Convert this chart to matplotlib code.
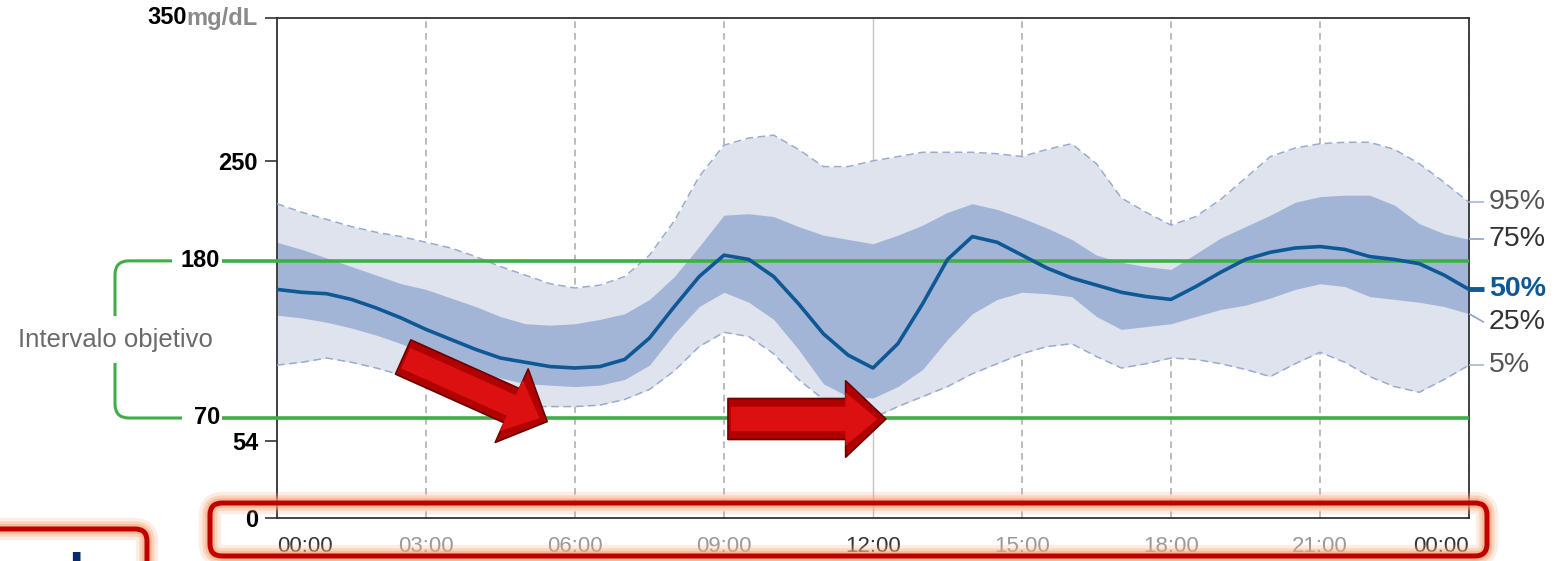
import numpy as np
import matplotlib

matplotlib.use("Agg", force=True)
import matplotlib.pyplot as plt
from matplotlib import font_manager
from matplotlib.patches import FancyBboxPatch, PathPatch
from matplotlib.path import Path
from matplotlib.transforms import IdentityTransform, blended_transform_factory

# --- data (mg/dL, every 30 min from 00:00 to 24:00) ---
hours = np.arange(0, 24.5, 0.5)

p95 = [220, 214, 209, 204, 200, 197, 193, 189, 183, 176, 170, 164, 161, 163, 169, 184,
       208, 239, 261, 266, 268, 258, 246, 246, 250, 253, 256, 256, 256, 255, 253, 258,
       262, 248, 224, 214, 205, 211, 223, 238, 253, 259, 262, 263, 263, 258, 248, 235, 221]
p75 = [193, 188, 182, 176, 170, 164, 160, 154, 148, 141, 136, 135, 136, 139, 143, 153,
       169, 190, 212, 213, 211, 204, 198, 195, 192, 198, 205, 214, 220, 216, 210, 203,
       195, 184, 179, 176, 174, 185, 196, 204, 212, 221, 225, 226, 226, 219, 206, 199, 195]
p50 = [160, 158, 157, 153, 147, 140, 132, 125, 118, 112, 109, 106, 105, 106, 111, 126,
       148, 169, 184, 181, 169, 150, 129, 114, 105, 122, 150, 181, 197, 193, 184, 175,
       168, 163, 158, 155, 153, 162, 172, 181, 186, 189, 190, 188, 183, 181, 178, 170, 160]
p25 = [142, 140, 137, 133, 128, 122, 115, 108, 102, 98, 94, 93, 92, 93, 97, 107,
       129, 148, 158, 151, 139, 118, 94, 85, 84, 92, 104, 125, 143, 153, 158, 157,
       155, 141, 132, 134, 136, 141, 146, 149, 154, 160, 164, 162, 155, 153, 151, 148, 143]
p5 = [107, 109, 112, 109, 105, 100, 94, 88, 84, 80, 78, 78, 78, 79, 83, 90,
      103, 120, 130, 127, 115, 97, 83, 73, 70, 78, 85, 92, 101, 108, 115, 120,
      122, 113, 105, 108, 112, 111, 108, 104, 99, 108, 116, 109, 99, 92, 88, 97, 107]

x_tick_hours = [0, 3, 6, 9, 12, 15, 18, 21, 24]
x_tick_labels = ["00:00", "03:00", "06:00", "09:00", "12:00", "15:00", "18:00", "21:00", "00:00"]
x_label_dark = [True, False, False, False, True, False, False, False, True]
y_ticks = [0, 54, 250, 350]
target_low, target_high = 70, 180
target_label = "Intervalo objetivo"
unit_label = "mg/dL"
percentile_labels = ["95%", "75%", "50%", "25%", "5%"]
percentile_series = [p95, p75, p50, p25, p5]

# arrows drawn over the chart (tail, tip) in hours / mg/dL
arrow_marks = [((2.54, 112.7), (5.44, 67.5)), ((9.08, 69.3), (12.26, 69.3))]

# --- style ---
W, H = 1555, 561
LIGHT_BAND = "#dfe3ee"
DARK_BAND = "#a3b5d6"
EDGE = "#9aaccd"
MEDIAN = "#0f5896"
GREEN = "#3fae49"
AXIS = "#333333"

plt.rcParams["font.family"] = ["Liberation Sans", "DejaVu Sans"]
installed = {f.name for f in font_manager.fontManager.ttflist}
if "Liberation Sans Narrow" in installed:
    narrow_family, x_size = ["Liberation Sans Narrow", "Liberation Sans"], 19.5
else:
    narrow_family, x_size = ["Liberation Sans", "DejaVu Sans"], 16

fig = plt.figure(figsize=(W / 100, H / 100), dpi=100)
ax = fig.add_axes([277 / W, 1 - 518 / H, (1469 - 277) / W, 500 / H])
ax.set_xlim(0, 24)
ax.set_ylim(0, 350)

# bands and lines
ax.fill_between(hours, p5, p95, color=LIGHT_BAND, lw=0, zorder=1)
ax.fill_between(hours, p25, p75, color=DARK_BAND, lw=0, zorder=2)
ax.plot(hours, p95, color=EDGE, lw=1.1, ls=(0, (5, 3)), zorder=3)
ax.plot(hours, p5, color=EDGE, lw=1.1, ls=(0, (5, 3)), zorder=3)

fx = blended_transform_factory(fig.transFigure, ax.transData)
for level in (target_low, target_high):
    ax.plot([222 / W, 1469 / W], [level, level], color=GREEN, lw=2.6,
            transform=fx, clip_on=False, zorder=4, solid_capstyle="butt")
    ax.text(220 / W, level, str(level), transform=fx, ha="right", va="center",
            fontsize=17, fontweight="bold", color="black")

ax.plot(hours, p50, color=MEDIAN, lw=2.6, zorder=5, solid_joinstyle="round")

# grid
ax.set_xticks(x_tick_hours)
ax.set_xticklabels(x_tick_labels)
ax.set_axisbelow(True)
ax.grid(axis="x", color="#b0b0b0", lw=1.2, ls=(0, (4, 3)))
for hour, line in zip(x_tick_hours, ax.get_xgridlines()):
    if hour == 12:
        line.set_linestyle("-")
        line.set_color("#c4c4c4")
        line.set_linewidth(1.0)

ax.tick_params(axis="x", length=0, pad=13)
for dark, lab in zip(x_label_dark, ax.get_xticklabels()):
    lab.set_family(narrow_family)
    lab.set_fontsize(x_size)
    lab.set_color("#333333" if dark else "#999999")
labels = ax.get_xticklabels()
labels[0].set_ha("left")
labels[-1].set_ha("right")

ax.set_yticks(y_ticks)
ax.set_yticklabels([str(v) if v != 350 else "" for v in y_ticks])
ax.tick_params(axis="y", direction="out", length=8.6, width=1.2, color=AXIS, pad=5,
               labelsize=17)
for lab in ax.get_yticklabels():
    lab.set_fontweight("bold")

unit = ax.text(258 / W, 350, unit_label, transform=fx, ha="right", va="center",
               fontsize=17, fontweight="bold", color="#8a8a8a")
ax.annotate("350", xy=(0, 0), xycoords=unit, ha="right", va="bottom",
            fontsize=17, fontweight="bold", color="black")

for side in ax.spines.values():
    side.set_color(AXIS)
    side.set_linewidth(1.3)

# percentile labels on the right
label_offsets = {"25%": -6}
label_styles = {
    "95%": ("#555555", "normal", "#a9b7d3", 1.2),
    "75%": ("#333333", "normal", "#8fa3c8", 1.2),
    "50%": (MEDIAN, "bold", MEDIAN, 3.5),
    "25%": ("#333333", "normal", "#8fa3c8", 1.2),
    "5%": ("#555555", "normal", "#a9b7d3", 1.2),
}
for name, series in zip(percentile_labels, percentile_series):
    color, weight, tick_color, tick_lw = label_styles[name]
    end = series[-1]
    lab_y = end + label_offsets.get(name, 0)
    ax.plot([1469 / W, 1484 / W], [end, lab_y], transform=fx, color=tick_color,
            lw=tick_lw, clip_on=False, zorder=6, solid_capstyle="butt")
    ax.text(1489 / W, lab_y, name, transform=fx, ha="left", va="center",
            fontsize=20.5, color=color, fontweight=weight)

# target range bracket on the left
y_hi = ax.transData.transform((0, target_high))[1]
y_lo = ax.transData.transform((0, target_low))[1]
xv, r = 115, 14
text_y = H - 340
verts = [(172, y_hi), (xv + r, y_hi), (xv, y_hi), (xv, y_hi - r), (xv, text_y + 24),
         (xv, text_y - 23), (xv, y_lo + r), (xv, y_lo), (xv + r, y_lo), (182, y_lo)]
codes = [Path.MOVETO, Path.LINETO, Path.CURVE3, Path.CURVE3, Path.LINETO,
         Path.MOVETO, Path.LINETO, Path.CURVE3, Path.CURVE3, Path.LINETO]
fig.add_artist(PathPatch(Path(verts, codes), transform=IdentityTransform(),
                         fill=False, ec=GREEN, lw=2.2, capstyle="butt"))
fig.text(xv / W, text_y / H, target_label, ha="center", va="center",
         fontsize=18.5, color="#6a6a6a")

# red arrows: a dark body with a lighter inner highlight for the raised look
arrow_sizes = [(28, 58, 27), (29, 55, 29.5)]
for (tail, tip), (head_len, head_w, tail_w) in zip(arrow_marks, arrow_sizes):
    ax.annotate("", xy=tip, xytext=tail, annotation_clip=False, zorder=8,
                arrowprops=dict(arrowstyle=f"simple,head_length={head_len},"
                                           f"head_width={head_w},tail_width={tail_w}",
                                mutation_scale=1, fc="#b00000", ec="#6a0000", lw=1.2,
                                shrinkA=0, shrinkB=0))
    ax.annotate("", xy=tip, xytext=tail, annotation_clip=False, zorder=9,
                arrowprops=dict(arrowstyle=f"simple,head_length={head_len * 0.8},"
                                           f"head_width={head_w * 0.7},"
                                           f"tail_width={tail_w * 0.6}",
                                mutation_scale=1, fc="#dc1010", ec="none",
                                shrinkA=2, shrinkB=6))


# highlight boxes
def red_box(x0, y_top, x1, y_bottom):
    for lw, alpha in [(16, 0.2), (11, 0.32), (7, 0.5)]:
        fig.add_artist(FancyBboxPatch((x0, H - y_bottom), x1 - x0, y_bottom - y_top,
                                      boxstyle="round,pad=0,rounding_size=12",
                                      transform=IdentityTransform(), fill=False,
                                      ec="#f5a070", lw=lw, alpha=alpha))
    fig.add_artist(FancyBboxPatch((x0, H - y_bottom), x1 - x0, y_bottom - y_top,
                                  boxstyle="round,pad=0,rounding_size=12",
                                  transform=IdentityTransform(), fill=False,
                                  ec="#c00000", lw=3.6))


red_box(210, 503, 1487, 556)
red_box(-20, 529, 147, 580)
fig.text(76 / W, (H - 552) / H, "l", ha="center", va="top", fontsize=40,
         fontweight="bold", color="#0b2a6b")

fig.savefig("out.png", dpi=100)
